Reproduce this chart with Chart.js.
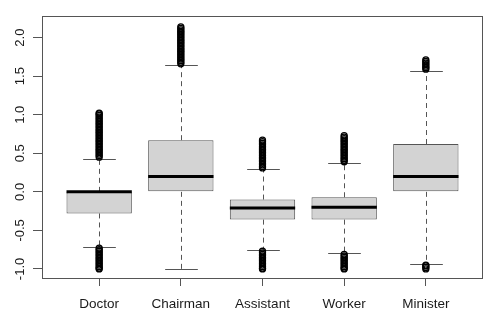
<!DOCTYPE html>
<html>
<head>
<meta charset="utf-8">
<script src="https://cdn.jsdelivr.net/npm/chart.js@4"></script>
<style>
  body { margin: 0; background: #fff; }
  #wrap { width: 500px; height: 318px; position: relative; }
</style>
</head>
<body>
<div id="wrap"><canvas id="boxChart"></canvas></div>
<script>
// categorias e estatísticas de cada caixa
const categories = ['Doctor', 'Chairman', 'Assistant', 'Worker', 'Minister'];
const q1 = [-0.28, 0.00, -0.36, -0.36, 0.00];
const q3 = [0.00, 0.67, -0.10, -0.07, 0.62];
const medians = [0.00, 0.20, -0.21, -0.20, 0.20];
const whiskerLow = [-0.71, -1.00, -0.75, -0.79, -0.94];
const whiskerHigh = [0.43, 1.64, 0.29, 0.37, 1.57];

// valores atípicos (outliers)
const outDoctor = [0.45, 0.47, 0.49, 0.51, 0.53, 0.55, 0.57, 0.59, 0.61, 0.63, 0.65, 0.67, 0.69, 0.71, 0.73,
  0.75, 0.77, 0.79, 0.81, 0.83, 0.85, 0.87, 0.89, 0.91, 0.93, 0.95, 0.97, 0.99, 1.01, 1.02,
  -0.73, -0.75, -0.77, -0.79, -0.81, -0.83, -0.85, -0.87, -0.89, -0.91, -0.93, -0.95, -0.97, -0.99, -1.00];
const outChairman = [1.66, 1.68, 1.70, 1.72, 1.74, 1.76, 1.78, 1.80, 1.82, 1.84, 1.86, 1.88, 1.90, 1.92, 1.94,
  1.96, 1.98, 2.00, 2.02, 2.04, 2.06, 2.08, 2.10, 2.12, 2.14];
const outAssistant = [0.31, 0.33, 0.35, 0.37, 0.39, 0.41, 0.43, 0.45, 0.47, 0.49, 0.51, 0.53, 0.55, 0.57, 0.59,
  0.61, 0.63, 0.65, 0.67,
  -0.77, -0.79, -0.81, -0.83, -0.85, -0.87, -0.89, -0.91, -0.93, -0.95, -0.97, -0.99, -1.00];
const outWorker = [0.39, 0.41, 0.43, 0.45, 0.47, 0.49, 0.51, 0.53, 0.55, 0.57, 0.59, 0.61, 0.63, 0.65, 0.67,
  0.69, 0.71, 0.73,
  -0.81, -0.83, -0.85, -0.87, -0.89, -0.91, -0.93, -0.95, -0.97, -0.99, -1.00];
const outMinister = [1.59, 1.61, 1.63, 1.65, 1.67, 1.69, 1.71, -0.95, -0.96, -0.98, -1.00];
const outliers = [outDoctor, outChairman, outAssistant, outWorker, outMinister];

const yTicks = [-1.0, -0.5, 0.0, 0.5, 1.0, 1.5, 2.0];
const xTicks = [1, 2, 3, 4, 5];

const lineColor = '#555555';

// desenha bigodes, medianas e a moldura do gráfico
const boxPlugin = {
  id: 'boxExtras',
  beforeDatasetsDraw(chart) {
    const ctx = chart.ctx;
    const y = chart.scales.y;
    const bars = chart.getDatasetMeta(0).data;
    ctx.save();
    ctx.strokeStyle = lineColor;
    ctx.lineWidth = 1;
    bars.forEach((bar, i) => {
      const cx = Math.round(bar.x) + 0.5;
      const half = bar.width / 4;
      ctx.setLineDash([5, 4]);
      ctx.beginPath();
      ctx.moveTo(cx, y.getPixelForValue(q3[i]));
      ctx.lineTo(cx, y.getPixelForValue(whiskerHigh[i]));
      ctx.moveTo(cx, y.getPixelForValue(q1[i]));
      ctx.lineTo(cx, y.getPixelForValue(whiskerLow[i]));
      ctx.stroke();
      ctx.setLineDash([]);
      ctx.beginPath();
      [whiskerHigh[i], whiskerLow[i]].forEach(v => {
        const py = Math.round(y.getPixelForValue(v)) + 0.5;
        ctx.moveTo(cx - half, py);
        ctx.lineTo(cx + half, py);
      });
      ctx.stroke();
    });
    ctx.restore();
  },
  afterDatasetsDraw(chart) {
    const ctx = chart.ctx;
    const y = chart.scales.y;
    const bars = chart.getDatasetMeta(0).data;
    const a = chart.chartArea;
    ctx.save();
    ctx.strokeStyle = '#000';
    ctx.lineWidth = 3;
    bars.forEach((bar, i) => {
      const py = y.getPixelForValue(medians[i]);
      ctx.beginPath();
      ctx.moveTo(bar.x - bar.width / 2, py);
      ctx.lineTo(bar.x + bar.width / 2, py);
      ctx.stroke();
    });
    ctx.strokeStyle = lineColor;
    ctx.lineWidth = 1;
    ctx.strokeRect(Math.round(a.left) + 0.5, Math.round(a.top) + 0.5,
      Math.round(a.width) - 1, Math.round(a.height) - 1);
    ctx.restore();
  }
};

const outlierPoints = [];
outliers.forEach((list, i) => {
  list.forEach(v => outlierPoints.push({ x: xTicks[i], y: v }));
});

const ctx = document.getElementById('boxChart').getContext('2d');
new Chart(ctx, {
  type: 'bar',
  data: {
    datasets: [{
      label: 'box',
      data: categories.map((c, i) => ({ x: xTicks[i], y: [q1[i], q3[i]] })),
      backgroundColor: '#d3d3d3',
      borderColor: lineColor,
      borderWidth: 1,
      borderSkipped: false,
      categoryPercentage: 1,
      barPercentage: 0.8
    }, {
      type: 'scatter',
      label: 'outliers',
      data: outlierPoints,
      pointStyle: 'circle',
      pointRadius: 3,
      pointBorderWidth: 1.3,
      pointBorderColor: '#000',
      pointBackgroundColor: 'rgba(0,0,0,0)'
    }]
  },
  options: {
    responsive: true,
    maintainAspectRatio: false,
    animation: false,
    layout: { padding: { left: 0, top: 16, right: 17, bottom: 0 } },
    plugins: { legend: { display: false }, tooltip: { enabled: false } },
    scales: {
      x: {
        type: 'linear',
        min: 0.3,
        max: 5.7,
        offset: false,
        afterBuildTicks: s => { s.ticks = xTicks.map(v => ({ value: v })); },
        afterFit: s => { s.height = 39; },
        grid: { drawOnChartArea: false, offset: false, tickLength: 7, color: lineColor },
        border: { display: false },
        ticks: {
          autoSkip: false,
          maxRotation: 0,
          padding: 10,
          color: '#1a1a1a',
          font: { family: 'Liberation Sans, Arial', size: 13.5 },
          callback: v => categories[v - 1]
        }
      },
      y: {
        min: -1.13,
        max: 2.28,
        afterBuildTicks: s => { s.ticks = yTicks.map(v => ({ value: v })); },
        afterFit: s => { s.width = 42; },
        grid: { drawOnChartArea: false, tickLength: 9, color: lineColor },
        border: { display: false },
        ticks: {
          autoSkip: false,
          minRotation: 90,
          maxRotation: 90,
          crossAlign: 'center',
          padding: 1,
          color: '#1a1a1a',
          font: { family: 'Liberation Sans, Arial', size: 13 },
          callback: v => v.toFixed(1)
        }
      }
    }
  },
  plugins: [boxPlugin]
});
</script>
</body>
</html>
